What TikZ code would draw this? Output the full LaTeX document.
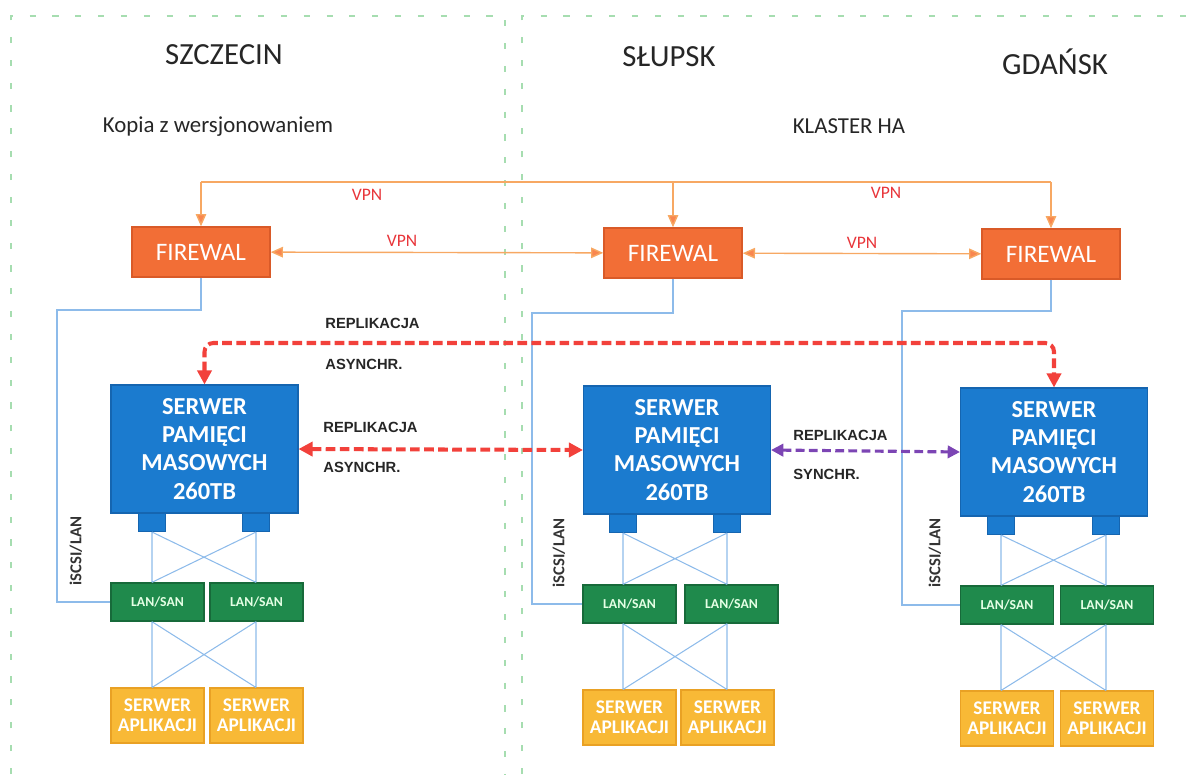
\documentclass[tikz,border=0pt]{standalone}
\usepackage{fontspec}
\setmainfont{Carlito}
\newfontfamily\labelfont{Liberation Sans}
\usetikzlibrary{positioning,arrows.meta}

\definecolor{fworange}{HTML}{F26E36}
\definecolor{fwedge}{HTML}{D95A28}
\definecolor{vpnorange}{HTML}{F7A863}
\definecolor{vpnred}{HTML}{E8353A}
\definecolor{stblue}{HTML}{1B7BCF}
\definecolor{stedge}{HTML}{1565B0}
\definecolor{lsgreen}{HTML}{1F8A4C}
\definecolor{lsedge}{HTML}{176A3A}
\definecolor{apyellow}{HTML}{F8B936}
\definecolor{apedge}{HTML}{E9A124}
\definecolor{linkblue}{HTML}{8DBBEA}
\definecolor{asynred}{HTML}{F2413B}
\definecolor{synpurple}{HTML}{7C45B4}
\definecolor{framegreen}{HTML}{A6DDB0}

\begin{document}
\begin{tikzpicture}[
    x=0.02cm, y=-0.02cm,
    every node/.style={inner sep=0pt},
    frame/.style={draw=framegreen, line width=0.7pt, dash pattern=on 3.5pt off 9.5pt},
    city/.style={font=\fontsize{17.5}{20}\selectfont, text=black!85},
    note/.style={font=\fontsize{13}{15}\selectfont, text=black!85},
    firewall/.style={draw=fwedge, fill=fworange, line width=0.8pt, minimum width=2.76cm, minimum height=1cm, text=white, font=\fontsize{14.3}{16}\selectfont},
    storage/.style={draw=stedge, fill=stblue, line width=0.6pt, minimum width=3.74cm, minimum height=2.56cm, align=center, text=white, font=\bfseries\fontsize{13.9}{16}\selectfont},
    port/.style={draw=stedge, fill=stblue, line width=0.6pt, minimum width=0.54cm, minimum height=0.36cm, anchor=north},
    lansan/.style={draw=lsedge, fill=lsgreen, line width=0.8pt, minimum width=1.86cm, minimum height=0.76cm, text=green!10, font=\bfseries\fontsize{7.8}{9}\selectfont},
    appbox/.style={draw=apedge, fill=apyellow, line width=0.6pt, minimum width=1.86cm, minimum height=1.1cm, align=center, text=white, font=\bfseries\fontsize{11}{11.5}\selectfont},
    vpnline/.style={draw=vpnorange, line width=0.8pt},
    vpntip/.style={-{Triangle[length=7pt,width=6pt,fill=vpnorange!80!red]}},
    vpnboth/.style={{Triangle[length=7pt,width=6pt,fill=vpnorange!80!red]}-{Triangle[length=7pt,width=6pt,fill=vpnorange!80!red]}},
    vpnlabel/.style={text=vpnred, font=\fontsize{10}{12}\selectfont},
    link/.style={draw=linkblue, line width=0.6pt},
    iscsi/.style={rotate=90, text=black!80, font=\bfseries\fontsize{9.5}{11}\selectfont},
    asyn/.style={draw=asynred, line width=2.3pt, dash pattern=on 5.5pt off 2.5pt, {Triangle[length=8pt,width=8pt]}-{Triangle[length=8pt,width=8pt]}},
    syn/.style={draw=synpurple, line width=1.8pt, dash pattern=on 5pt off 2.5pt, {Triangle[length=7pt,width=7pt]}-{Triangle[length=7pt,width=7pt]}},
    repllabel/.style={anchor=west, text=black!85, font=\labelfont\bfseries\fontsize{8.4}{10}\selectfont}
]
\useasboundingbox (0,0) rectangle (1186,774);

% ramki lokalizacji
\draw[frame] (11,774) -- (11,16) -- (505,16) -- (505,774);
\draw[frame] (522,774) -- (522,16) -- (1186,16);

% nazwy miast
\node[city] (szczecin) at (224,55) {SZCZECIN};
\node[city] (slupsk) at (669,57) {SŁUPSK};
\node[city] (gdansk) at (1055,62) {GDAŃSK};
\node[note] (kopia) at (218,127) {Kopia z wersjonowaniem};
\node[note] (klaster) at (849,126) {KLASTER HA};

% firewalle
\node[firewall] (fw1) at (201,252) {FIREWAL};
\node[firewall] (fw2) at (673,253) {FIREWAL};
\node[firewall] (fw3) at (1051,254) {FIREWAL};

% VPN
\coordinate (vpntop) at (0,182);
\draw[vpnline] (fw1.north |- vpntop) -- (fw3.north |- vpntop);
\foreach \f in {fw1,fw2,fw3}
  \draw[vpnline, vpntip] (\f.north |- vpntop) -- (\f.north);
\draw[vpnline, vpnboth] (fw1) -- (fw2);
\draw[vpnline, vpnboth] (fw2) -- (fw3);
\node[vpnlabel] (vpn1) at (367,195) {VPN};
\node[vpnlabel] (vpn2) at (886,193) {VPN};
\node[vpnlabel] (vpn3) at (402,241) {VPN};
\node[vpnlabel] (vpn4) at (862,243) {VPN};

% serwery pamieci masowych
\node[storage] (st1) at (204.5,449) {SERWER\\PAMIĘCI\\MASOWYCH\\260TB};
\node[storage] (st2) at (677,450) {SERWER\\PAMIĘCI\\MASOWYCH\\260TB};
\node[storage] (st3) at (1054,452) {SERWER\\PAMIĘCI\\MASOWYCH\\260TB};

% porty
\node[port] (p11) at (152,513) {};
\node[port] (p12) at (256,513) {};
\node[port] (p21) at (623,514) {};
\node[port] (p22) at (727,514) {};
\node[port] (p31) at (1001,516) {};
\node[port] (p32) at (1106,516) {};

% przelaczniki LAN/SAN
\node[lansan] (ls11) at (157.5,602) {LAN/SAN};
\node[lansan] (ls12) at (256.5,602) {LAN/SAN};
\node[lansan] (ls21) at (629.5,604) {LAN/SAN};
\node[lansan] (ls22) at (731.5,604) {LAN/SAN};
\node[lansan] (ls31) at (1007,605) {LAN/SAN};
\node[lansan] (ls32) at (1107,605) {LAN/SAN};

% serwery aplikacji
\node[appbox] (ap11) at (157.5,715.5) {SERWER\\APLIKACJI};
\node[appbox] (ap12) at (256.5,715.5) {SERWER\\APLIKACJI};
\node[appbox] (ap21) at (629.5,717.5) {SERWER\\APLIKACJI};
\node[appbox] (ap22) at (727.5,717.5) {SERWER\\APLIKACJI};
\node[appbox] (ap31) at (1007,718.5) {SERWER\\APLIKACJI};
\node[appbox] (ap32) at (1107,718.5) {SERWER\\APLIKACJI};

% polaczenia krzyzowe
\foreach \s in {1,2,3} {
  \draw[link] (p\s1.south) -- (p\s1.south |- ls\s1.north)
              (p\s2.south) -- (p\s2.south |- ls\s2.north)
              (p\s1.south) -- (p\s2.south |- ls\s2.north)
              (p\s2.south) -- (p\s1.south |- ls\s1.north);
  \draw[link] (p\s1.south |- ls\s1.south) -- (p\s1.south |- ap\s1.north)
              (p\s2.south |- ls\s2.south) -- (p\s2.south |- ap\s2.north)
              (p\s1.south |- ls\s1.south) -- (p\s2.south |- ap\s2.north)
              (p\s2.south |- ls\s2.south) -- (p\s1.south |- ap\s1.north);
}

% iSCSI/LAN
\coordinate (sc1) at (57,310);
\coordinate (sc2) at (532,313);
\coordinate (sc3) at (902,311);
\draw[link] (fw1.south) |- (sc1) |- (ls11.west);
\draw[link] (fw2.south) |- (sc2) |- (ls21.west);
\draw[link] (fw3.south) |- (sc3) |- (ls31.west);
\node[iscsi] (is1) at (76,551) {iSCSI/LAN};
\node[iscsi] (is2) at (559,553) {iSCSI/LAN};
\node[iscsi] (is3) at (935,553) {iSCSI/LAN};

% replikacja
\coordinate (rtop) at (0,343);
\draw[asyn, rounded corners=5pt] (st1.north) -- (st1.north |- rtop) -- (st3.north |- rtop) -- (st3.north);
\draw[asyn] (st1.east) -- (st2.west);
\draw[syn] (st2.east) -- (st3.west);
\node[repllabel] (r1a) at (325,323) {REPLIKACJA};
\node[repllabel] (r1b) at (325,364) {ASYNCHR.};
\node[repllabel] (r2a) at (323,427) {REPLIKACJA};
\node[repllabel] (r2b) at (323,467) {ASYNCHR.};
\node[repllabel] (r3a) at (793,435) {REPLIKACJA};
\node[repllabel] (r3b) at (793,474) {SYNCHR.};

\end{tikzpicture}
\end{document}
